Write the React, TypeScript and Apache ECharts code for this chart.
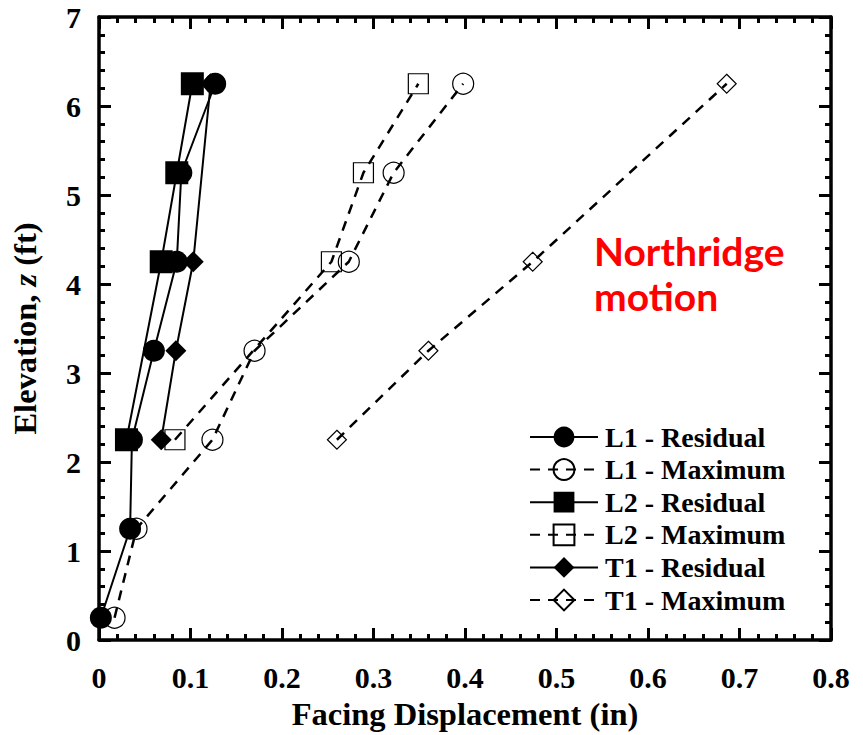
import React, { useEffect, useRef } from "react";
import * as echarts from "echarts";

const xTicks = [0, 0.1, 0.2, 0.3, 0.4, 0.5, 0.6, 0.7, 0.8];
const yTicks = [0, 1, 2, 3, 4, 5, 6, 7];

const elevL1 = [0.25, 1.25, 2.25, 3.25, 4.25, 5.25, 6.25];
const l1Residual = [0.002, 0.034, 0.036, 0.06, 0.085, 0.09, 0.127];
const l1Maximum = [0.017, 0.041, 0.124, 0.17, 0.273, 0.322, 0.398];

const elevL2 = [2.25, 4.25, 5.25, 6.25];
const l2Residual = [0.03, 0.068, 0.085, 0.102];
const l2Maximum = [0.083, 0.254, 0.289, 0.349];

const elevT1 = [2.25, 3.25, 4.25, 6.25];
const t1Residual = [0.068, 0.084, 0.103, 0.122];
const t1Maximum = [0.26, 0.36, 0.474, 0.686];

const seriesNames = [
  "L1 - Residual",
  "L1 - Maximum",
  "L2 - Residual",
  "L2 - Maximum",
  "T1 - Residual",
  "T1 - Maximum",
];

const SERIF = "'Liberation Serif', 'Times New Roman', serif";

const pairs = (xs: number[], ys: number[]) => xs.map((x, i) => [x, ys[i]]);

export default function App() {
  const ref = useRef<HTMLDivElement>(null);
  useEffect(() => {
    document.body.style.margin = "0";
    if (!ref.current) return;
    const chart = echarts.init(ref.current, null, { renderer: "svg" });

    const tickCommon = {
      axisLine: { show: true, onZero: false, lineStyle: { color: "#000", width: 3.5 } },
      axisTick: { show: true, inside: true, length: 12, lineStyle: { color: "#000", width: 3 } },
      minorTick: { show: true, splitNumber: 5, length: 6, lineStyle: { color: "#000", width: 3 } },
      splitLine: { show: false },
      minorSplitLine: { show: false },
    };

    const solid = { color: "#000", width: 2, type: "solid" as const };
    const dashed = { color: "#000", width: 2.5, type: [10, 8] as any };
    const filled = { color: "#000", borderColor: "#000", borderWidth: 0 };
    const hollow = { color: "rgba(0,0,0,0)", borderColor: "#000", borderWidth: 1.2 };

    const mk = (name: string, data: number[][], symbol: string, size: number, line: any, item: any) => ({
      name,
      type: "line",
      data,
      symbol,
      symbolSize: size,
      showSymbol: true,
      lineStyle: line,
      itemStyle: item,
      z: 3,
    });

    chart.setOption({
      animation: false,
      backgroundColor: "#fff",
      grid: { left: 99, right: 32, top: 17, bottom: 90, containLabel: false },
      xAxis: [
        {
          type: "value",
          position: "bottom",
          min: xTicks[0],
          max: xTicks[xTicks.length - 1],
          interval: 0.1,
          ...tickCommon,
          axisLabel: {
            show: true,
            margin: 22,
            color: "#000",
            fontFamily: SERIF,
            fontWeight: "bold",
            fontSize: 30,
            formatter: (v: number) => String(Math.round(v * 10) / 10),
          },
          name: "Facing Displacement (in)",
          nameLocation: "middle",
          nameGap: 57,
          nameTextStyle: { color: "#000", fontFamily: SERIF, fontWeight: "bold", fontSize: 32.5 },
        },
        {
          type: "value",
          position: "top",
          min: xTicks[0],
          max: xTicks[xTicks.length - 1],
          interval: 0.1,
          ...tickCommon,
          axisLabel: { show: false },
        },
      ],
      yAxis: [
        {
          type: "value",
          position: "left",
          min: yTicks[0],
          max: yTicks[yTicks.length - 1],
          interval: 1,
          ...tickCommon,
          axisLabel: {
            show: true,
            margin: 18,
            color: "#000",
            fontFamily: SERIF,
            fontWeight: "bold",
            fontSize: 30,
          },
          name: "Elevation, {i|z} (ft)",
          nameLocation: "middle",
          nameGap: 58,
          nameRotate: 90,
          nameTextStyle: {
            color: "#000",
            fontFamily: SERIF,
            fontWeight: "bold",
            fontSize: 32.5,
            rich: {
              i: { fontFamily: SERIF, fontWeight: "bold", fontStyle: "italic", fontSize: 32.5, color: "#000" },
            },
          },
        },
        {
          type: "value",
          position: "right",
          min: yTicks[0],
          max: yTicks[yTicks.length - 1],
          interval: 1,
          ...tickCommon,
          axisLabel: { show: false },
        },
      ],
      legend: {
        orient: "vertical",
        left: 529,
        top: 423,
        itemWidth: 68,
        itemHeight: 26,
        itemGap: 4.6,
        padding: 0,
        textStyle: { color: "#000", fontFamily: SERIF, fontWeight: "bold", fontSize: 28, padding: [0, 0, 0, 2] },
        data: seriesNames,
        selectedMode: false,
      },
      graphic: [
        {
          type: "text",
          x: 594,
          y: 228,
          style: {
            text: "Northridge\nmotion",
            fill: "#ff0000",
            font: "bold 39px Lato, 'Open Sans', sans-serif",
            lineHeight: 45,
          },
          z: 10,
        },
      ],
      series: [
        mk(seriesNames[0], pairs(l1Residual, elevL1), "circle", 22, solid, filled),
        mk(seriesNames[1], pairs(l1Maximum, elevL1), "circle", 21, dashed, hollow),
        mk(seriesNames[2], pairs(l2Residual, elevL2), "rect", 23, solid, filled),
        mk(seriesNames[3], pairs(l2Maximum, elevL2), "rect", 20, dashed, hollow),
        mk(seriesNames[4], pairs(t1Residual, elevT1), "diamond", 21, solid, filled),
        mk(seriesNames[5], pairs(t1Maximum, elevT1), "diamond", 19, dashed, hollow),
      ],
    });
    return () => chart.dispose();
  }, []);
  return <div ref={ref} style={{ width: 863, height: 735 }} />;
}
